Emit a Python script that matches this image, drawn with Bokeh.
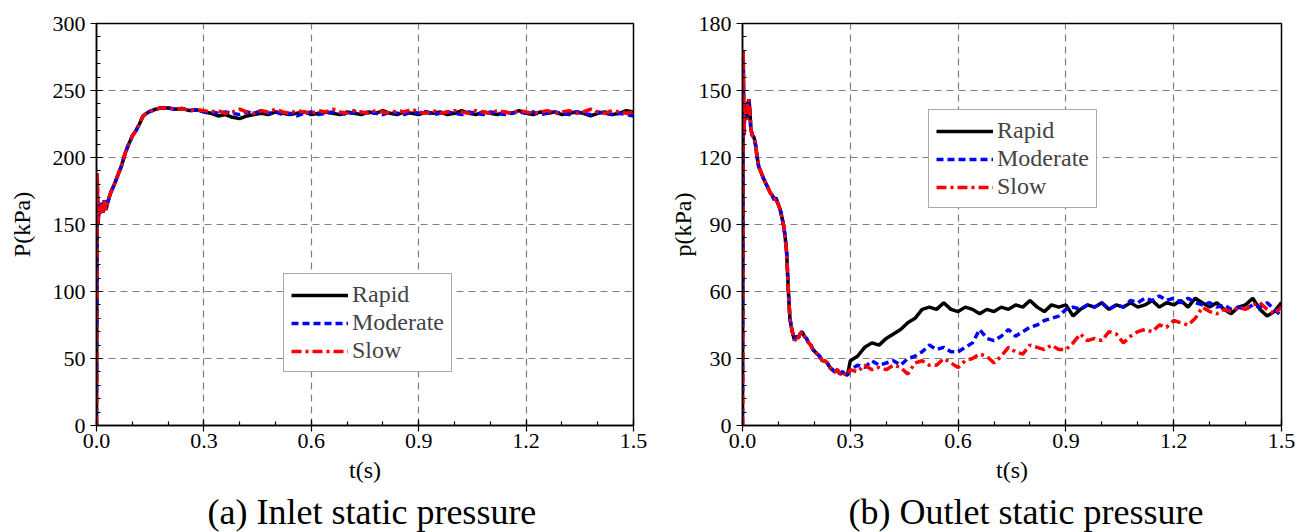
from bokeh.plotting import figure
from bokeh.layouts import row
from bokeh.models import (Range1d, SingleIntervalTicker, NumeralTickFormatter,
                          Legend, LegendItem, Title)
from bokeh.embed import file_html
from bokeh.resources import INLINE

# ---------------- data ----------------
# (a) inlet: shared start-up rise
t_in_rise = [0.000, 0.002, 0.004, 0.007, 0.010, 0.014, 0.018, 0.022, 0.026, 0.030,
             0.035, 0.040, 0.050, 0.060, 0.070, 0.080, 0.090, 0.100, 0.110, 0.120,
             0.130, 0.140, 0.150, 0.165, 0.180, 0.200, 0.220, 0.240, 0.260, 0.280]
p_in_rise = [0, 188, 150, 162, 158, 166, 159, 168, 161, 165,
             170, 174, 180, 187, 194, 203, 210, 216, 220, 225,
             231, 233, 234.5, 236, 237, 237, 236, 236.5, 235, 235.5]

t_late = [0.30, 0.32, 0.34, 0.36, 0.38, 0.40, 0.42, 0.44, 0.46, 0.48,
          0.50, 0.52, 0.54, 0.56, 0.58, 0.60, 0.62, 0.64, 0.66, 0.68,
          0.70, 0.72, 0.74, 0.76, 0.78, 0.80, 0.82, 0.84, 0.86, 0.88,
          0.90, 0.92, 0.94, 0.96, 0.98, 1.00, 1.02, 1.04, 1.06, 1.08,
          1.10, 1.12, 1.14, 1.16, 1.18, 1.20, 1.22, 1.24, 1.26, 1.28,
          1.30, 1.32, 1.34, 1.36, 1.38, 1.40, 1.42, 1.44, 1.46, 1.48,
          1.50]

p_in_rapid = [234, 233, 231, 232, 230, 229, 231, 232, 233, 232,
              234, 233, 232, 233, 234, 232, 233, 234, 233, 232,
              234, 233, 232, 234, 233, 235, 233, 232, 234, 233,
              232, 234, 233, 234, 232, 233, 235, 233, 232, 234,
              233, 232, 234, 233, 235, 233, 232, 234, 233, 234,
              232, 233, 234, 233, 231, 233, 234, 232, 233, 235,
              234]
p_in_moderate = [234, 234, 233, 234, 233, 232, 234, 233, 235, 233,
                 234, 232, 233, 231, 233, 234, 232, 233, 234, 233,
                 232, 234, 233, 234, 233, 232, 234, 233, 232, 234,
                 233, 234, 232, 233, 234, 233, 232, 234, 233, 232,
                 234, 233, 232, 233, 234, 233, 234, 232, 233, 234,
                 233, 232, 234, 233, 232, 234, 233, 232, 233, 232,
                 231]
p_in_slow = [235, 234, 235, 233, 234, 236, 234, 233, 235, 234,
             236, 234, 233, 235, 234, 233, 235, 234, 236, 234,
             233, 235, 234, 233, 235, 234, 233, 235, 234, 236,
             234, 233, 235, 233, 234, 235, 234, 233, 235, 234,
             233, 235, 234, 233, 235, 234, 233, 234, 235, 233,
             234, 235, 233, 234, 236, 234, 233, 235, 234, 233,
             234]

# (b) outlet: shared start-up drop
t_out_drop = [0.000, 0.002, 0.004, 0.006, 0.008, 0.011, 0.014, 0.018, 0.021, 0.023,
              0.027, 0.032, 0.036, 0.040, 0.045, 0.050, 0.055, 0.060, 0.066, 0.072,
              0.078, 0.083, 0.088, 0.093, 0.097, 0.102, 0.106, 0.110, 0.115, 0.119,
              0.123, 0.126, 0.129, 0.132, 0.136, 0.140, 0.145, 0.150, 0.155, 0.160,
              0.166, 0.172, 0.178, 0.184, 0.190, 0.196, 0.202, 0.208, 0.215, 0.222,
              0.229, 0.236, 0.243, 0.250, 0.257, 0.264, 0.271, 0.278, 0.285, 0.292]
p_out_drop = [0, 168, 130, 140, 142, 137, 144, 146, 140, 133,
              130, 129, 126, 121, 116, 114, 112, 110, 108, 106,
              104, 103, 101, 102, 100, 98, 96, 93, 89, 84,
              77, 66, 56, 48, 44, 41, 38, 40, 39, 41,
              42, 40, 39, 37, 36, 34, 33, 32, 31, 29,
              29, 28, 26, 25, 24, 25, 23, 24, 23, 22.5]

p_out_rapid = [29, 31, 35, 37, 36, 39, 41, 43, 46, 48,
               52, 53, 52, 55, 52, 51, 53, 52, 50, 52,
               51, 53, 52, 54, 53, 56, 53, 51, 54, 53,
               54, 49, 52, 54, 53, 55, 52, 54, 53, 55,
               53, 54, 56, 53, 55, 54, 56, 53, 57, 55,
               53, 55, 52, 50, 53, 54, 57, 52, 49, 51,
               55]
p_out_moderate = [25, 27, 26, 29, 27, 28, 29, 27, 30, 31,
                  33, 36, 34, 35, 33, 33, 35, 37, 43, 39,
                  38, 40, 43, 40, 42, 44, 45, 47, 48, 49,
                  52, 53, 52, 54, 53, 55, 52, 54, 53, 56,
                  55, 57, 56, 58, 56, 57, 55, 57, 55, 54,
                  55, 53, 54, 52, 53, 52, 54, 53, 55, 52,
                  49]
p_out_slow = [25, 24, 27, 25, 26, 25, 27, 26, 23, 28,
              29, 27, 27, 30, 28, 26, 29, 30, 32, 31,
              28, 31, 35, 33, 32, 36, 35, 34, 36, 34,
              34, 37, 41, 38, 39, 38, 42, 41, 37, 40,
              42, 43, 42, 45, 44, 47, 46, 45, 48, 53,
              51, 50, 52, 51, 53, 52, 54, 55, 52, 50,
              53]

x_ticks_step = 0.3
series_names = ["Rapid", "Moderate", "Slow"]
captions = ["(a) Inlet static pressure", "(b) Outlet static pressure"]
y_labels = ["P(kPa)", "p(kPa)"]
x_label = "t(s)"

# ---------------- styling ----------------
SERIF = "Liberation Serif"
colors = ["black", "blue", "red"]
dashes = ["solid", "7 4", "10 4 3 4"]


def style(p, ystep, ylabel, ylab_standoff, caption, cap_offset):
    p.xaxis.ticker = SingleIntervalTicker(interval=x_ticks_step, num_minor_ticks=3)
    p.yaxis.ticker = SingleIntervalTicker(interval=ystep, num_minor_ticks=5)
    p.xaxis.formatter = NumeralTickFormatter(format="0.0")
    for ax in (p.xaxis[0], p.yaxis[0]):
        ax.axis_line_color = "black"
        ax.axis_line_width = 1.5
        ax.major_tick_line_color = "black"
        ax.major_tick_line_width = 1.2
        ax.minor_tick_line_color = "black"
        ax.minor_tick_line_width = 1.2
        ax.major_tick_in = 6
        ax.major_tick_out = 6
        ax.minor_tick_in = 4
        ax.minor_tick_out = 0
        ax.major_label_text_font = SERIF
        ax.major_label_text_font_size = "22px"
        ax.major_label_text_color = "black"
        ax.axis_label_text_font = SERIF
        ax.axis_label_text_font_size = "24px"
        ax.axis_label_text_font_style = "normal"
        ax.axis_label_text_color = "black"
    p.xaxis.major_label_standoff = 2
    p.yaxis.major_label_standoff = 5
    p.xaxis.axis_label = x_label
    p.xaxis.axis_label_standoff = 6
    p.yaxis.axis_label = ylabel
    p.yaxis.axis_label_standoff = ylab_standoff
    for g in (p.xgrid[0], p.ygrid[0]):
        g.grid_line_color = "#808080"
        g.grid_line_dash = "7 5"
        g.grid_line_width = 1.2
    p.outline_line_color = "black"
    p.outline_line_width = 1.5
    p.outline_line_alpha = 1.0
    p.add_layout(Title(text=caption, align="left", offset=cap_offset, text_font=SERIF,
                       text_font_size="36px", text_font_style="normal",
                       text_color="black", standoff=8), "below")


def add_lines(p, t, ys, loc):
    items = []
    for name, y, c, d in zip(series_names, ys, colors, dashes):
        r = p.line(t, y, line_color=c, line_width=3.5, line_dash=d)
        items.append(LegendItem(label=name, renderers=[r]))
    leg = Legend(items=items, location=loc, label_text_font=SERIF,
                 label_text_font_size="24px", border_line_color="#555555",
                 border_line_width=1.5, padding=7, spacing=1, margin=0,
                 glyph_width=57, glyph_height=24, label_height=24,
                 label_standoff=4, background_fill_alpha=1.0)
    p.add_layout(leg)


# ---------------- panel (a) ----------------
p1 = figure(frame_width=537, frame_height=402, x_range=Range1d(0, 1.5), y_range=Range1d(0, 300),
            output_backend="svg", toolbar_location=None,
            min_border_left=96, min_border_right=30, min_border_top=23, min_border_bottom=107)
style(p1, 50, y_labels[0], 15, captions[0], 111)
t_in = t_in_rise + t_late
add_lines(p1, t_in, [p_in_rise + p_in_rapid, p_in_rise + p_in_moderate, p_in_rise + p_in_slow],
          (187, 53))

# ---------------- panel (b) ----------------
p2 = figure(frame_width=539, frame_height=402, x_range=Range1d(0, 1.5), y_range=Range1d(0, 180),
            output_backend="svg", toolbar_location=None,
            min_border_left=79, min_border_right=28, min_border_top=21, min_border_bottom=109)
style(p2, 30, y_labels[1], 0, captions[1], 106)
t_out = t_out_drop + t_late
add_lines(p2, t_out, [p_out_drop + p_out_rapid, p_out_drop + p_out_moderate, p_out_drop + p_out_slow],
          (186, 217))

layout = row(p1, p2)
open("out.html", "w").write(file_html(layout, INLINE))
